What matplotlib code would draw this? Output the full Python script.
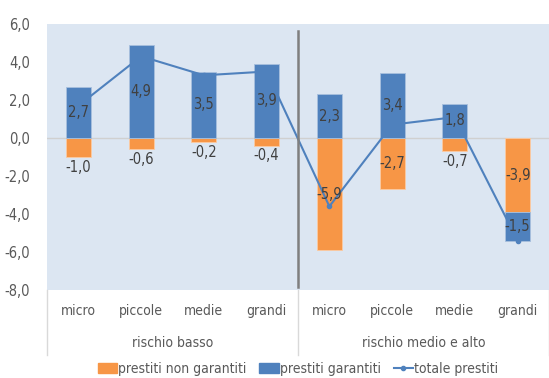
import matplotlib.pyplot as plt
from matplotlib.patches import Patch
from matplotlib.lines import Line2D
import numpy as np

plt.rcParams['font.family'] = ['DejaVu Sans']
plt.rcParams['font.stretch'] = 'condensed'

# data
sizes = ['micro', 'piccole', 'medie', 'grandi', 'micro', 'piccole', 'medie', 'grandi']
groups = ['rischio basso', 'rischio medio e alto']
non_garantiti = [-1.0, -0.6, -0.2, -0.4, -5.9, -2.7, -0.7, -3.9]
garantiti = [2.7, 4.9, 3.5, 3.9, 2.3, 3.4, 1.8, -1.5]
totale = [1.7, 4.3, 3.3, 3.5, -3.6, 0.7, 1.1, -5.4]

orange = '#F79646'
blue = '#4F81BD'
txt = '#595959'
fs = 10

fig = plt.figure(figsize=(5.49, 3.78), dpi=100)
ax = fig.add_axes([47/549, 1-290/378, 1-47/549, (290-24)/378])
ax.set_facecolor('#DCE6F2')

x = np.arange(len(sizes))
ng = np.array(non_garantiti)
g = np.array(garantiti)
# stack: negatives below negatives, positives above positives
g_bottom = np.where(g < 0, np.minimum(ng, 0), 0)

ax.axhline(0, color='#D0D0D0', lw=1, zorder=1)
ax.bar(x, ng, width=0.4, color=orange, edgecolor='#FBCBA3', linewidth=0.6, zorder=2)
ax.bar(x, g, width=0.4, bottom=g_bottom, color=blue, edgecolor='#A7C0DE', linewidth=0.6, zorder=2)
ax.plot(x, totale, color=blue, lw=1.5, marker='o', markersize=3, zorder=3)

lab = '#404040'
for i in range(len(x)):
    v = ng[i]
    if abs(v) < 1.5:
        ax.annotate(f'{v:.1f}'.replace('.', ','), (x[i], v), xytext=(0, -2),
                    textcoords='offset points', ha='center', va='top',
                    fontsize=fs + 0.5, color=lab, zorder=4)
    else:
        ax.text(x[i], v/2, f'{v:.1f}'.replace('.', ','), ha='center', va='center',
                fontsize=fs + 0.5, color=lab, zorder=4)
    ax.text(x[i], g_bottom[i] + g[i]/2, f'{g[i]:.1f}'.replace('.', ','),
            ha='center', va='center', fontsize=fs + 0.5, color=lab, zorder=4)

ax.set_xlim(-0.5, len(sizes) - 0.5)
ax.set_ylim(-8, 6)
ax.set_yticks(np.arange(-8, 7, 2))
ax.set_yticklabels([f'{t:.1f}'.replace('.', ',') for t in np.arange(-8, 7, 2)])
ax.tick_params(axis='y', length=0, labelsize=fs + 0.5, labelcolor=txt, pad=12)
ax.set_xticks([])
for s in ax.spines.values():
    s.set_visible(False)

# divider between groups
ax.plot([3.5, 3.5], [-7.85, 5.65], color='#7F7F7F', lw=1.8, zorder=5)

# category axis
trans = ax.get_xaxis_transform()
for i, s in enumerate(sizes):
    ax.text(x[i], -0.08, s, transform=trans, ha='center', va='center',
            fontsize=fs, color=txt)
for j, gname in enumerate(groups):
    ax.text(1.5 + 4*j, -0.2, gname, transform=trans, ha='center', va='center',
            fontsize=fs, color=txt)
for xv in [-0.5, 3.5, 7.5]:
    ax.plot([xv, xv], [0, -0.245], transform=trans, color='#D9D9D9', lw=1, clip_on=False)

handles = [Patch(color=orange, label='prestiti non garantiti'),
           Patch(color=blue, label='prestiti garantiti'),
           Line2D([0], [0], color=blue, lw=1.5, marker='o', markersize=3, label='totale prestiti')]
fig.legend(handles=handles, loc='center', bbox_to_anchor=(0.543, 0.024), ncol=3,
           frameon=False, fontsize=fs, labelcolor=txt, handlelength=1.4,
           handletextpad=0.1, columnspacing=0.9, handleheight=0.8)

fig.savefig('out.png', dpi=100)
